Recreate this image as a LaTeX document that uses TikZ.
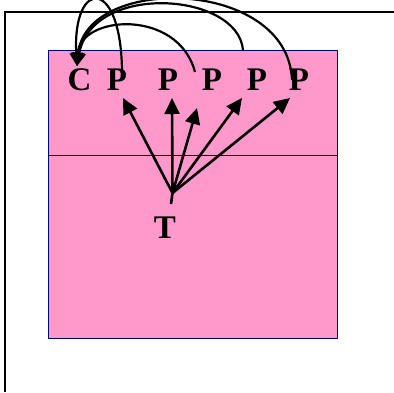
\documentclass[tikz,border=0pt]{standalone}
\usepackage{fontspec}
\setmainfont{Liberation Serif}
\usetikzlibrary{arrows.meta}
\definecolor{pinkfill}{HTML}{FF99CC}
\definecolor{navyline}{HTML}{000080}
\begin{document}
\begin{tikzpicture}[x=1pt,y=-1pt,
  lbl/.style={font=\fontsize{33}{33}\selectfont\bfseries, inner sep=0pt, anchor=base},
  straightarr/.style={line width=2.6pt, -{Triangle[length=16pt,width=15pt]}},
  curvearr/.style={line width=2.2pt, -{Triangle[length=13pt,width=13pt]}}]
\useasboundingbox (0,0) rectangle (394,392);
% outer frame
\draw[line width=2.5pt] (394,12) -- (5,12) -- (5,392);
% pink panel
\node[draw=navyline, fill=pinkfill, line width=1.6pt, minimum width=289pt, minimum height=288pt, inner sep=0pt, anchor=north west] (panel) at (47.5,49.5) {};
\draw[line width=1.4pt] (panel.west |- 0,155.5) coordinate (ml) -- (panel.east |- 0,155.5) coordinate (mr);
% labels
\node[lbl] (c) at (79.5,90) {C};
\node[lbl] (p1) at (117,90) {P};
\node[lbl] (p2) at (168,90) {P};
\node[lbl] (p3) at (212,90) {P};
\node[lbl] (p4) at (257,90) {P};
\node[lbl] (p5) at (299,90) {P};
\node[lbl] (t) at (165,238) {T};
% fan from T
\coordinate (o) at (172.5,193);
\coordinate (tail) at (171,204);
\coordinate (a1) at (123,98);
\coordinate (a2) at (172,98);
\coordinate (a3) at (197,108);
\coordinate (a4) at (242,98);
\coordinate (a5) at (290,98);
\draw[line width=2.6pt] (tail) -- (o);
\foreach \i in {1,...,5} \draw[straightarr] (o) -- (a\i);
% curved arrows into C
\coordinate (ctop) at (77,66);
\coordinate (s1) at (122,77);
\coordinate (s3) at (195,72);
\coordinate (s4) at (243,50);
\coordinate (s5) at (292,80);
\draw[curvearr] (s1) .. controls (123,-25) and (72,-22) .. (ctop);
\draw[curvearr] (s3) .. controls (178,8) and (80,15) .. (ctop);
\draw[curvearr] (s4) .. controls (238,-8) and (92,-18) .. (ctop);
\draw[curvearr] (s5) .. controls (288,-22) and (86,-26) .. (ctop);
\end{tikzpicture}
\end{document}
